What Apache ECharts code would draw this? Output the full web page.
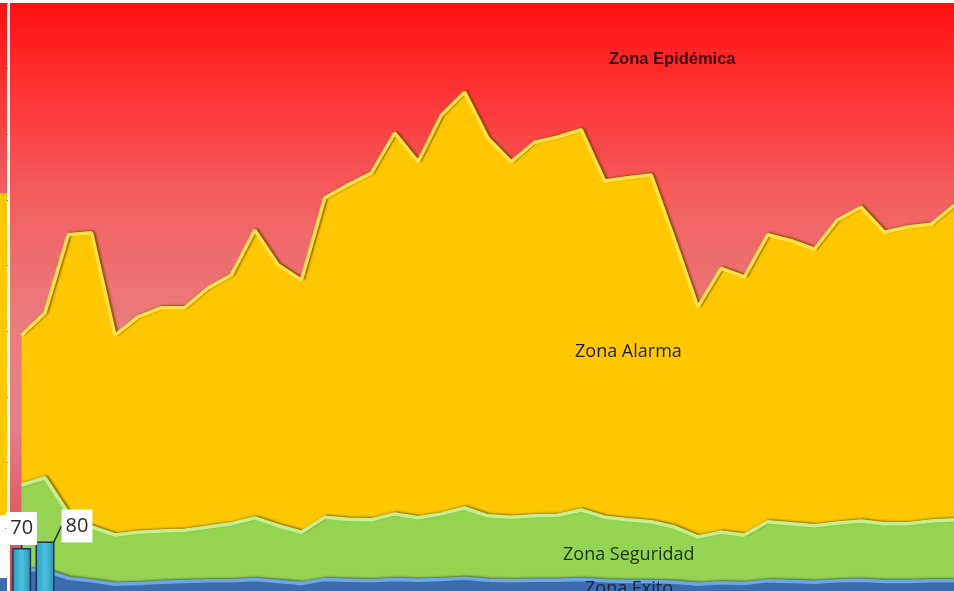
<!DOCTYPE html>
<html>
<head>
<meta charset="utf-8">
<title>Canal endémico</title>
<script src="https://cdn.jsdelivr.net/npm/echarts@6/dist/echarts.min.js"></script>
<style>
  html, body { margin: 0; padding: 0; background: #fff; overflow: hidden; }
  /* el gráfico original está recortado a la derecha y abajo */
  #chart { width: 966px; height: 594px; }
</style>
</head>
<body>
<div id="chart"></div>
<script>
// semanas (eje x oculto en la imagen)
const semanas = Array.from({ length: 41 }, (_, i) => String(i + 1));

const zonaAlarma = [394, 428, 547, 550, 394, 422, 436, 436, 466, 486, 554, 501, 478, 603, 623, 641, 702, 658, 729, 764, 694,
  658, 688, 696, 707, 629, 634, 638, 539, 437, 496, 483, 547, 538, 525, 570, 589, 551, 559, 563, 592];
const zonaSeguridad = [166, 177, 123, 102, 90, 94, 96, 97, 102, 107, 116, 104, 94, 117, 114, 113, 122, 116, 122, 131, 119,
  117, 119, 120, 128, 117, 113, 110, 102, 87, 94, 90, 110, 107, 104, 108, 111, 107, 107, 111, 113];
const zonaExito = [37, 36, 24, 20, 15, 16, 18, 19, 20, 20, 22, 19, 16, 22, 21, 20, 22, 21, 22, 24, 21,
  20, 21, 21, 22, 20, 19, 19, 18, 15, 17, 16, 20, 19, 18, 20, 21, 19, 19, 20, 20];
const casos = [70, 80];

const yTicks = { min: 0, max: 900, interval: 100 };

const myChart = echarts.init(document.getElementById("chart"));

const lg = (stops) => new echarts.graphic.LinearGradient(0, 0, 0, 1, stops);

const bevel = (color, shadow) => ({
  color: color,
  width: 3.5,
  shadowColor: shadow,
  shadowBlur: 2,
  shadowOffsetX: 2,
  shadowOffsetY: -1,
});

myChart.setOption({
  animation: false,
  grid: {
    left: 10,
    right: 0,
    top: 3,
    bottom: 0,
    show: true,
    borderWidth: 0,
    backgroundColor: lg([
      { offset: 0, color: "#ff0f0f" },
      { offset: 0.15, color: "#ff3434" },
      { offset: 0.35, color: "#f26262" },
      { offset: 0.55, color: "#e97d7e" },
      { offset: 0.72, color: "#e28088" },
      { offset: 0.87, color: "#e15a62" },
      { offset: 1, color: "#e03c44" },
    ]),
  },
  xAxis: {
    type: "category",
    data: semanas,
    show: false,
  },
  yAxis: {
    type: "value",
    min: yTicks.min,
    max: yTicks.max,
    interval: yTicks.interval,
    offset: 2,
    axisLabel: { show: false },
    splitLine: { show: false },
    axisLine: {
      show: true,
      lineStyle: { color: "#ffffff", width: 2 },
    },
    axisTick: {
      show: true,
      length: 3,
      lineStyle: { color: "#8a8a8a", width: 1 },
    },
  },
  series: [
    {
      name: "Zona Alarma",
      type: "line",
      data: zonaAlarma,
      symbol: "none",
      lineStyle: bevel("#ffe245", "rgba(120,70,0,0.75)"),
      areaStyle: { color: "#ffc800", opacity: 1 },
      z: 2,
    },
    {
      name: "Zona Seguridad",
      type: "line",
      data: zonaSeguridad,
      symbol: "none",
      lineStyle: bevel("#c6f08e", "rgba(110,90,0,0.7)"),
      areaStyle: { color: "#94d452", opacity: 1 },
      z: 3,
    },
    {
      name: "Zona Exito",
      type: "line",
      data: zonaExito,
      symbol: "none",
      lineStyle: bevel("#6aa6ea", "rgba(40,60,40,0.6)"),
      areaStyle: { color: "#3d6cae", opacity: 1 },
      z: 4,
    },
    {
      name: "Casos",
      type: "bar",
      data: casos,
      barWidth: 19,
      itemStyle: {
        color: new echarts.graphic.LinearGradient(0, 0, 1, 0, [
          { offset: 0, color: "#2d97c0" },
          { offset: 0.5, color: "#4ec3e2" },
          { offset: 1, color: "#2b90ba" },
        ]),
        borderColor: "#1c3550",
        borderWidth: 1.5,
      },
      label: {
        show: true,
        position: "top",
        distance: 3,
        color: "#2a2a2a",
        fontSize: 20,
        lineHeight: 21,
        fontFamily: "Open Sans",
        backgroundColor: "#ffffff",
        padding: [6, 4, 6, 4],
      },
      labelLayout: (params) => (params.dataIndex === 1 ? { dx: 32, dy: 4 } : {}),
      labelLine: {
        show: true,
        lineStyle: { color: "#1c2a3a", width: 1.5 },
      },
      z: 6,
    },
  ],
  graphic: [
    // franja izquierda recortada
    { type: "rect", shape: { x: 0, y: 3, width: 7, height: 190 }, style: { fill: lg([{ offset: 0, color: "#ff0f0f" }, { offset: 1, color: "#f05f60" }]) }, z: 1 },
    { type: "rect", shape: { x: 0, y: 193, width: 7, height: 322 }, style: { fill: "#ffc800" }, z: 1 },
    { type: "rect", shape: { x: 0, y: 578, width: 7, height: 13 }, style: { fill: "#3d6cae" }, z: 1 },
    {
      type: "text", left: 609, top: 51, z: 10,
      style: { text: "Zona Epidémica", font: "bold 16.5px 'Liberation Sans'", fill: "#3b0606" },
    },
    {
      type: "text", left: 575, top: 343, z: 10,
      style: { text: "Zona Alarma", font: "18px 'Open Sans'", fill: "#1c1c1c" },
    },
    {
      type: "text", left: 563, top: 546, z: 10,
      style: { text: "Zona Seguridad", font: "18px 'Open Sans'", fill: "#1e3318" },
    },
    {
      type: "text", left: 585, top: 580, z: 10,
      style: { text: "Zona Exito", font: "18px 'Open Sans'", fill: "#14243c" },
    },
  ],
});
</script>
</body>
</html>
